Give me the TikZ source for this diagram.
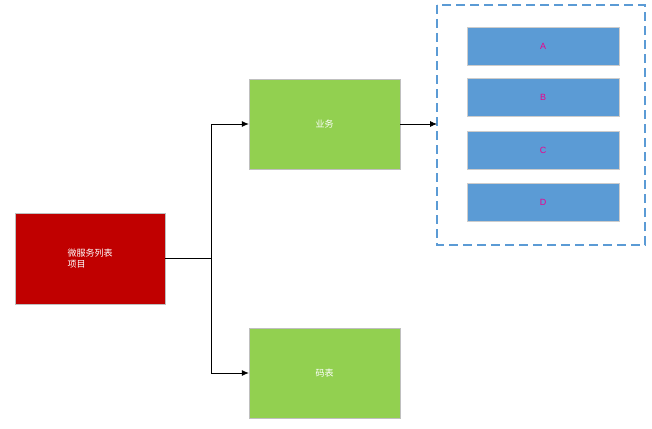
\documentclass[tikz,border=0pt]{standalone}
\usepackage{fontspec}
\setmainfont{Liberation Sans}
\newfontfamily\cjk{Noto Sans CJK SC}
\usetikzlibrary{positioning,arrows.meta}
\definecolor{grn}{HTML}{92D050}
\definecolor{redbox}{HTML}{C00000}
\definecolor{bluebox}{HTML}{5B9BD5}
\tikzset{
  boxG/.style={ draw=black!25, fill=grn, minimum width=151pt, minimum height=90pt, text=white, font=\cjk\small },
  boxR/.style={ draw=black!25, fill=redbox, minimum width=150pt, minimum height=91pt, text=white, font=\cjk\small, align=left },
  boxB/.style={ draw=white!80!black, fill=bluebox, minimum width=152pt, minimum height=38pt, text=magenta, font=\small },
  link/.style={ -{Latex[length=7pt,width=6pt]}, thick }
}
\begin{document}
\begin{tikzpicture}[x=1pt, y=-1pt]
      \useasboundingbox (0,0) rectangle (652,428);
      \node[boxR] (proj) at (90, 258.5) {微服务列表\\项目};
      \node[boxG] (biz) at (324.5, 124) {业务};
      \node[boxG] (code) at (324.5, 373) {码表};
      \draw[dashed, very thick, color=bluebox, dash pattern=on 9pt off 5pt] (437,5) rectangle (645,245);
      \coordinate (grp) at (437,124);

      \node[boxB] (A) at (543, 46) {A};
      \node[boxB] (B) at (543, 97) {B};
      \node[boxB] (C) at (543, 150.5) {C};
      \node[boxB] (D) at (543, 202) {D};

      \draw[thick] (proj.east) -- (211, 258.5);
      \draw[link] (211, 258.5) |- (biz.west);
      \draw[link] (211, 258.5) |- (code.west);
      \draw[link] (biz.east) -- (grp);
    \end{tikzpicture}
\end{document}
